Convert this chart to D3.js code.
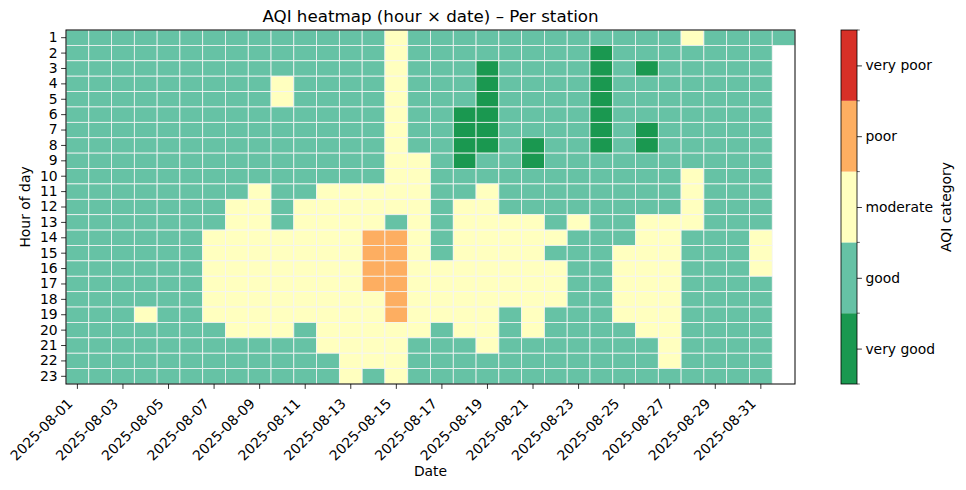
<!DOCTYPE html>
<html>
<head>
<meta charset="utf-8">
<script src="https://cdn.jsdelivr.net/npm/d3@7"></script>
<style>
  body { margin: 0; background: #fff; }
  svg { font-family: "DejaVu Sans", sans-serif; }
</style>
</head>
<body>
<div id="chart"></div>
<script>
// dates on the x axis (one column per day)
const dates = [
  "2025-08-01", "2025-08-02", "2025-08-03", "2025-08-04", "2025-08-05", "2025-08-06",
  "2025-08-07", "2025-08-08", "2025-08-09", "2025-08-10", "2025-08-11", "2025-08-12",
  "2025-08-13", "2025-08-14", "2025-08-15", "2025-08-16", "2025-08-17", "2025-08-18",
  "2025-08-19", "2025-08-20", "2025-08-21", "2025-08-22", "2025-08-23", "2025-08-24",
  "2025-08-25", "2025-08-26", "2025-08-27", "2025-08-28", "2025-08-29", "2025-08-30",
  "2025-08-31", "2025-09-01"
];
const tickDates = [
  "2025-08-01", "2025-08-03", "2025-08-05", "2025-08-07", "2025-08-09", "2025-08-11",
  "2025-08-13", "2025-08-15", "2025-08-17", "2025-08-19", "2025-08-21", "2025-08-23",
  "2025-08-25", "2025-08-27", "2025-08-29", "2025-08-31"
];
const hours = [1, 2, 3, 4, 5, 6, 7, 8, 9, 10, 11, 12, 13, 14, 15, 16, 17, 18, 19, 20, 21, 22, 23];

const categories = ["very good", "good", "moderate", "poor", "very poor"];
const categoryColors = ["#1a9850", "#66c2a5", "#ffffbf", "#fdae61", "#d73027"];

// AQI category per hour (rows) and date (columns): 0 very good .. 4 very poor, null = no data
const _ = null;
const aqiCategory = [
  [1,1,1,1,1,1,1,1,1,1,1,1,1,1,2,1,1,1,1,1,1,1,1,1,1,1,1,2,1,1,1,1], // 1
  [1,1,1,1,1,1,1,1,1,1,1,1,1,1,2,1,1,1,1,1,1,1,1,0,1,1,1,1,1,1,1,_], // 2
  [1,1,1,1,1,1,1,1,1,1,1,1,1,1,2,1,1,1,0,1,1,1,1,0,1,0,1,1,1,1,1,_], // 3
  [1,1,1,1,1,1,1,1,1,2,1,1,1,1,2,1,1,1,0,1,1,1,1,0,1,1,1,1,1,1,1,_], // 4
  [1,1,1,1,1,1,1,1,1,2,1,1,1,1,2,1,1,1,0,1,1,1,1,0,1,1,1,1,1,1,1,_], // 5
  [1,1,1,1,1,1,1,1,1,1,1,1,1,1,2,1,1,0,0,1,1,1,1,0,1,1,1,1,1,1,1,_], // 6
  [1,1,1,1,1,1,1,1,1,1,1,1,1,1,2,1,1,0,0,1,1,1,1,0,1,0,1,1,1,1,1,_], // 7
  [1,1,1,1,1,1,1,1,1,1,1,1,1,1,2,1,1,0,0,1,0,1,1,0,1,0,1,1,1,1,1,_], // 8
  [1,1,1,1,1,1,1,1,1,1,1,1,1,1,2,2,1,0,1,1,0,1,1,1,1,1,1,1,1,1,1,_], // 9
  [1,1,1,1,1,1,1,1,1,1,1,1,1,1,2,2,1,1,1,1,1,1,1,1,1,1,1,2,1,1,1,_], // 10
  [1,1,1,1,1,1,1,1,2,1,1,2,2,2,2,2,1,1,2,1,1,1,1,1,1,1,1,2,1,1,1,_], // 11
  [1,1,1,1,1,1,1,2,2,1,2,2,2,2,2,2,1,2,2,1,1,1,1,1,1,1,1,2,1,1,1,_], // 12
  [1,1,1,1,1,1,1,2,2,1,2,2,2,2,1,2,1,2,2,2,2,1,2,1,1,2,2,2,1,1,1,_], // 13
  [1,1,1,1,1,1,2,2,2,2,2,2,2,3,3,2,1,2,2,2,2,2,1,1,1,2,2,1,1,1,2,_], // 14
  [1,1,1,1,1,1,2,2,2,2,2,2,2,3,3,2,1,2,2,2,2,1,1,1,2,2,2,1,1,1,2,_], // 15
  [1,1,1,1,1,1,2,2,2,2,2,2,2,3,3,2,2,2,2,2,2,2,1,1,2,2,2,1,1,1,2,_], // 16
  [1,1,1,1,1,1,2,2,2,2,2,2,2,3,3,2,2,2,2,2,2,2,1,1,2,2,2,1,1,1,1,_], // 17
  [1,1,1,1,1,1,2,2,2,2,2,2,2,2,3,2,2,2,2,2,2,2,1,1,2,2,2,1,1,1,1,_], // 18
  [1,1,1,2,1,1,2,2,2,2,2,2,2,2,3,2,2,2,2,1,2,1,1,1,2,2,2,1,1,1,1,_], // 19
  [1,1,1,1,1,1,1,2,2,2,1,2,2,2,2,2,1,2,2,1,2,1,1,1,1,2,2,1,1,1,1,_], // 20
  [1,1,1,1,1,1,1,1,1,1,1,2,2,2,2,1,1,1,2,1,1,1,1,1,1,1,2,1,1,1,1,_], // 21
  [1,1,1,1,1,1,1,1,1,1,1,1,2,2,2,1,1,1,1,1,1,1,1,1,1,1,2,1,1,1,1,_], // 22
  [1,1,1,1,1,1,1,1,1,1,1,1,2,1,2,1,1,1,1,1,1,1,1,1,1,1,1,1,1,1,1,_]  // 23
];

const W = 966, H = 490;
const plot = {left: 66, right: 795, top: 30, bottom: 384};
const cbar = {left: 841, right: 857};

const svg = d3.select("#chart").append("svg")
  .attr("width", W)
  .attr("height", H);

const x = d3.scaleBand()
  .domain(dates)
  .range([plot.left, plot.right])
  .padding(0);

const y = d3.scaleBand()
  .domain(hours)
  .range([plot.top, plot.bottom])
  .padding(0);

const color = d3.scaleOrdinal()
  .domain(d3.range(categories.length))
  .range(categoryColors);

// flatten to cells
const cells = [];
hours.forEach((h, i) => {
  dates.forEach((d, j) => {
    const v = aqiCategory[i][j];
    if (v !== null) cells.push({hour: h, date: d, value: v});
  });
});

svg.append("g")
  .selectAll("rect")
  .data(cells)
  .enter()
  .append("rect")
    .attr("x", d => x(d.date))
    .attr("y", d => y(d.hour))
    .attr("width", x.bandwidth())
    .attr("height", y.bandwidth())
    .attr("fill", d => color(d.value))
    .attr("stroke", "#f4f4f4")
    .attr("stroke-width", 0.8);

// x axis
const xAxis = svg.append("g")
  .attr("transform", "translate(0," + plot.bottom + ")")
  .call(d3.axisBottom(x).tickValues(tickDates).tickSize(4.9).tickSizeOuter(0));
xAxis.select(".domain").remove();
xAxis.selectAll("line").attr("stroke", "#000").attr("stroke-width", 0.8);
xAxis.selectAll("text")
  .attr("y", 0).attr("dy", null).attr("x", 0)
  .attr("text-anchor", "end")
  .attr("transform", "translate(-4,20.5) rotate(-45)")
  .style("font-size", "13.9px")
  .style("font-family", "DejaVu Sans")
  .attr("fill", "#000");

// y axis
const yAxis = svg.append("g")
  .attr("transform", "translate(" + plot.left + ",0)")
  .call(d3.axisLeft(y).tickSize(4.9).tickPadding(3.5).tickSizeOuter(0));
yAxis.select(".domain").remove();
yAxis.selectAll("line").attr("stroke", "#000").attr("stroke-width", 0.8);
yAxis.selectAll("text")
  .style("font-size", "13.9px")
  .style("font-family", "DejaVu Sans")
  .attr("fill", "#000");

// axes frame
svg.append("rect")
  .attr("x", plot.left)
  .attr("y", plot.top)
  .attr("width", plot.right - plot.left)
  .attr("height", plot.bottom - plot.top)
  .attr("fill", "none")
  .attr("stroke", "#000")
  .attr("stroke-width", 1);

// title and labels
svg.append("text")
  .attr("x", (plot.left + plot.right) / 2)
  .attr("y", 22)
  .attr("text-anchor", "middle")
  .style("font-size", "16.7px")
  .text("AQI heatmap (hour \u00d7 date) \u2013 Per station");

svg.append("text")
  .attr("x", (plot.left + plot.right) / 2)
  .attr("y", 476)
  .attr("text-anchor", "middle")
  .style("font-size", "13.9px")
  .text("Date");

svg.append("text")
  .attr("transform", "translate(30," + (plot.top + plot.bottom) / 2 + ") rotate(-90)")
  .attr("text-anchor", "middle")
  .style("font-size", "13.9px")
  .text("Hour of day");

// colorbar
const cy = d3.scaleLinear()
  .domain([-0.5, categories.length - 0.5])
  .range([plot.bottom, plot.top]);

const cb = svg.append("g");
cb.selectAll("rect")
  .data(categories)
  .enter()
  .append("rect")
    .attr("x", cbar.left)
    .attr("y", (d, i) => cy(i + 0.5))
    .attr("width", cbar.right - cbar.left)
    .attr("height", (d, i) => cy(i - 0.5) - cy(i + 0.5))
    .attr("fill", (d, i) => categoryColors[i]);

cb.append("rect")
  .attr("x", cbar.left)
  .attr("y", plot.top)
  .attr("width", cbar.right - cbar.left)
  .attr("height", plot.bottom - plot.top)
  .attr("fill", "none")
  .attr("stroke", "#000")
  .attr("stroke-width", 0.8);

// minor ticks at the boundaries
cb.selectAll(".minor")
  .data(d3.range(categories.length + 1))
  .enter()
  .append("line")
    .attr("class", "minor")
    .attr("x1", cbar.right).attr("x2", cbar.right + 2.8)
    .attr("y1", i => cy(i - 0.5)).attr("y2", i => cy(i - 0.5))
    .attr("stroke", "#000")
    .attr("stroke-width", 0.6);

const cAxis = cb.append("g")
  .attr("transform", "translate(" + cbar.right + ",0)")
  .call(d3.axisRight(cy)
    .tickValues(d3.range(categories.length))
    .tickFormat(i => categories[i])
    .tickSize(4.9).tickPadding(3.5).tickSizeOuter(0));
cAxis.select(".domain").remove();
cAxis.selectAll("line").attr("stroke", "#000").attr("stroke-width", 0.8);
cAxis.selectAll("text")
  .style("font-size", "13.9px")
  .style("font-family", "DejaVu Sans")
  .attr("fill", "#000");

svg.append("text")
  .attr("transform", "translate(951," + (plot.top + plot.bottom) / 2 + ") rotate(-90)")
  .attr("text-anchor", "middle")
  .style("font-size", "13.9px")
  .text("AQI category");
</script>
</body>
</html>
